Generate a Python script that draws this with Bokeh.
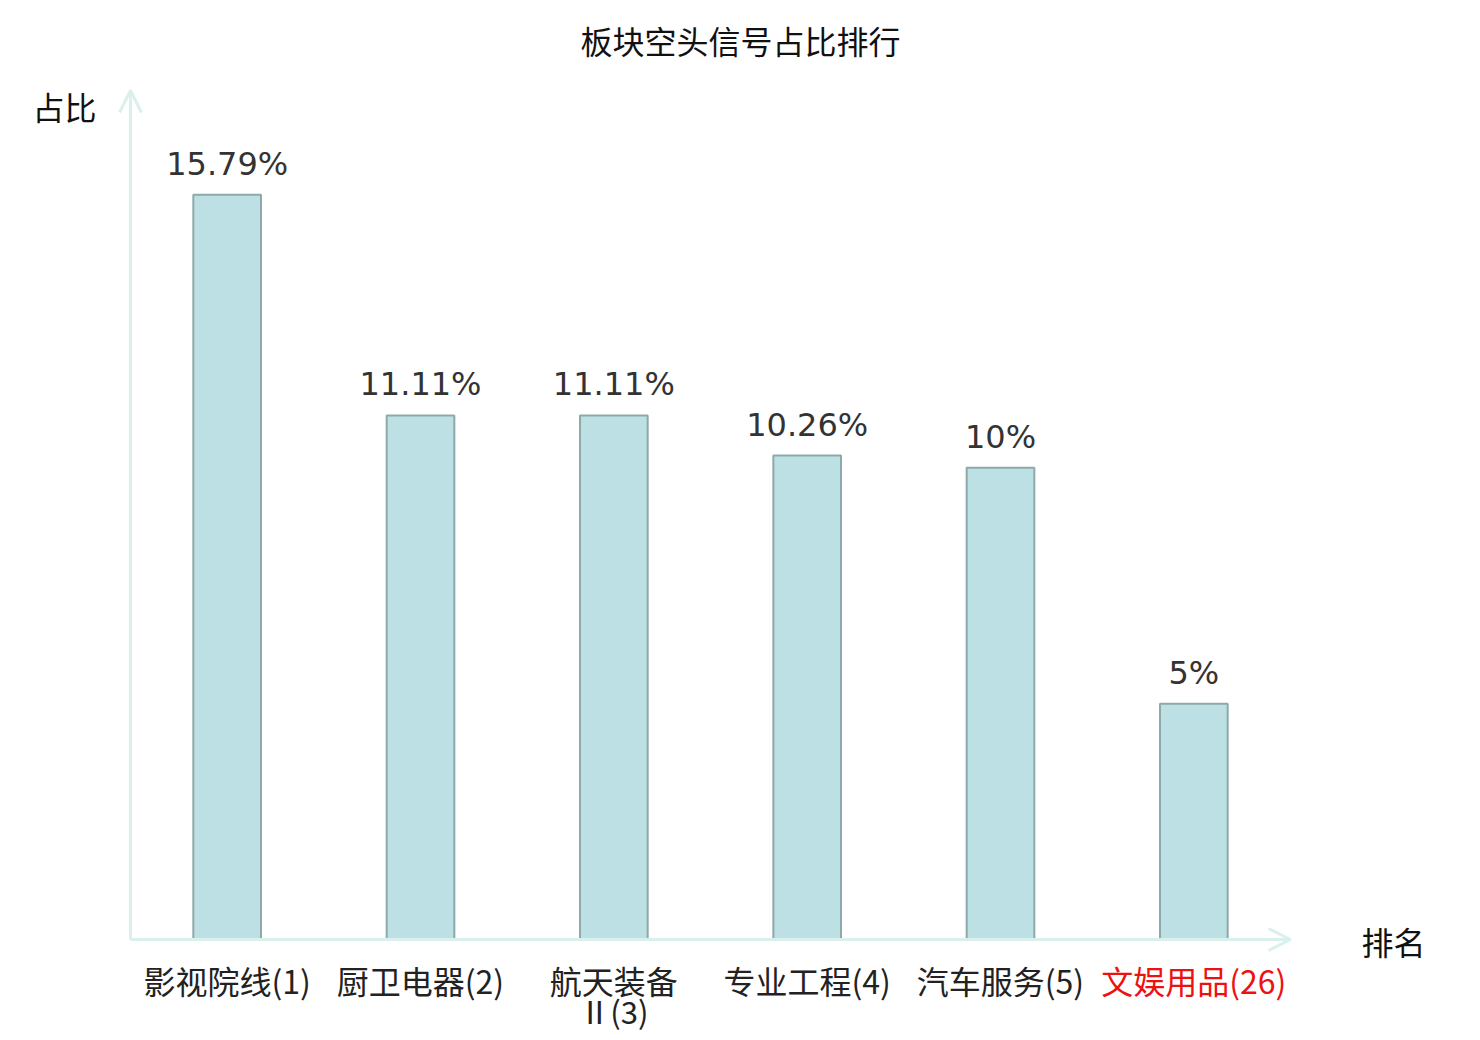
from bokeh.plotting import figure
from bokeh.models import ColumnDataSource, LabelSet, Label, Arrow, OpenHead, Range1d
from bokeh.embed import file_html
from bokeh.resources import INLINE
from bokeh.core.properties import value

# data
categories = ["影视院线(1)", "厨卫电器(2)", "航天装备\nⅡ(3)", "专业工程(4)", "汽车服务(5)", "文娱用品(26)"]
shares = [15.79, 11.11, 11.11, 10.26, 10.0, 5.0]
share_labels = ["15.79%", "11.11%", "11.11%", "10.26%", "10%", "5%"]
label_colors = ["#222222", "#222222", "#222222", "#222222", "#222222", "#ee1111"]
title_text = "板块空头信号占比排行"
y_name = "占比"
x_name = "排名"
y_max = 18

n = len(categories)
xs = list(range(n))
line1 = [c.split("\n")[0] for c in categories]
line2 = [c.split("\n")[1] if "\n" in c else "" for c in categories]
src = ColumnDataSource(dict(x=xs, top=shares, vlab=share_labels, l1=line1, l2=line2, col=label_colors))

# canvas & plotting-area geometry (pixels); the frame covers the whole canvas so
# that annotations outside the plotting area are not clipped
W, H = 1472, 1038
PL, PR, PT, PB = 130, 1290, 90, 939
band = (PR - PL) / n
ppu = (PB - PT) / y_max
x_lo = -0.5 - PL / band
x_hi = -0.5 + (W - PL) / band
y_hi = PB / ppu
y_lo = -(H - PB) / ppu
x_center = x_lo + (x_hi - x_lo) * (740 / W)

p = figure(width=W, height=H, output_backend="svg", toolbar_location=None,
           x_range=Range1d(x_lo, x_hi), y_range=Range1d(y_lo, y_hi), min_border=0)
p.xaxis.visible = False
p.yaxis.visible = False
p.xgrid.visible = False
p.ygrid.visible = False
p.outline_line_color = None
p.background_fill_color = "white"
p.border_fill_color = "white"

axis_col = "#daf0ed"
p.add_layout(Arrow(end=OpenHead(line_color=axis_col, line_width=3, size=22),
                   x_start=-0.5, y_start=0, x_end=n - 0.5, y_end=0,
                   line_color=axis_col, line_width=3))
p.add_layout(Arrow(end=OpenHead(line_color=axis_col, line_width=3, size=22),
                   x_start=-0.5, y_start=0, x_end=-0.5, y_end=y_max,
                   line_color=axis_col, line_width=3))

p.vbar(x="x", top="top", bottom=0, width=0.35, source=src,
       fill_color="#bce0e3", line_color="#8ea9aa", line_width=2)

p.add_layout(LabelSet(x="x", y="top", text="vlab", source=src, y_offset=12,
                      text_align="center", text_baseline="bottom",
                      text_font=value("DejaVu Sans"), text_font_size="32px",
                      text_color="#333333"))

p.add_layout(LabelSet(x="x", y=0, text="l1", source=src, y_offset=-40,
                      text_align="center", text_baseline="middle",
                      text_font=value("Noto Sans CJK SC"), text_font_size="32px",
                      text_color="col"))
p.add_layout(LabelSet(x="x", y=0, text="l2", source=src, y_offset=-71,
                      text_align="center", text_baseline="middle",
                      text_font=value("Noto Sans CJK SC"), text_font_size="31px",
                      text_color="col"))

p.add_layout(Label(x=-0.5, y=y_max, text=y_name, x_offset=-98, y_offset=-38,
                   text_font="Noto Sans CJK SC", text_font_size="32px",
                   text_color="#111111", text_baseline="bottom"))
p.add_layout(Label(x=n - 0.5, y=0, text=x_name, x_offset=71, y_offset=-1,
                   text_font="Noto Sans CJK SC", text_font_size="32px",
                   text_color="#111111", text_baseline="middle"))
p.add_layout(Label(x=x_center, y=y_hi, text=title_text, y_offset=-16,
                   text_font="Noto Sans CJK SC", text_font_size="32px",
                   text_color="#111111", text_baseline="top", text_align="center"))

open("out.html", "w").write(file_html(p, INLINE))
